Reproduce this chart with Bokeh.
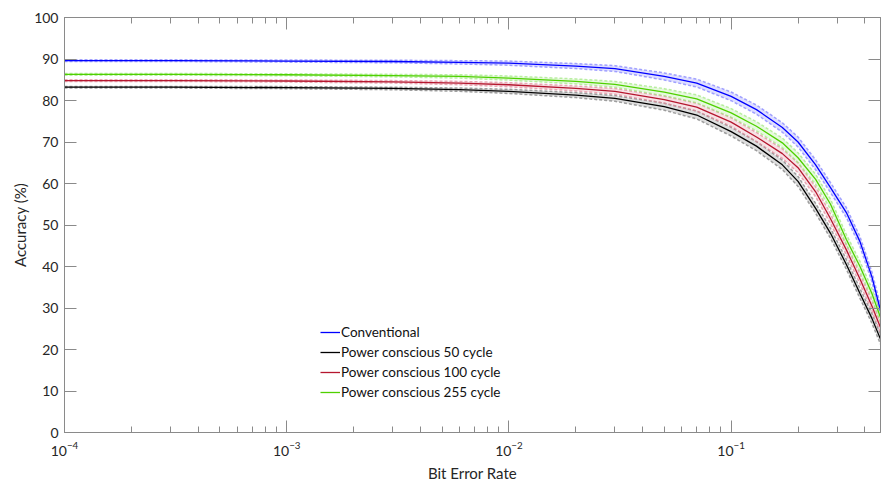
from bokeh.plotting import figure
from bokeh.models import LogAxis, LinearAxis, LogTicker, FixedTicker, Legend, Range1d, CustomJSTickFormatter
from bokeh.embed import file_html
from bokeh.resources import INLINE

ber = [1e-4, 3e-4, 1e-3, 3e-3, 6e-3, 1e-2, 2e-2, 3e-2, 5e-2, 7e-2, 0.1, 0.13, 0.17, 0.2, 0.24, 0.28, 0.33, 0.38, 0.43, 0.47]
conventional = [89.6, 89.6, 89.5, 89.4, 89.2, 89.0, 88.3, 87.7, 85.8, 84.2, 81.0, 77.8, 73.5, 70.0, 64.5, 59.0, 53.0, 46.0, 37.5, 29.4]
pc50 = [83.2, 83.2, 83.1, 82.9, 82.6, 82.2, 81.3, 80.5, 78.5, 76.5, 72.5, 69.0, 64.5, 60.5, 54.0, 48.0, 40.5, 33.5, 27.5, 22.5]
pc100 = [84.8, 84.8, 84.7, 84.5, 84.2, 83.8, 82.9, 82.2, 80.2, 78.4, 74.8, 71.2, 67.2, 63.8, 58.0, 51.5, 44.0, 37.0, 30.5, 25.3]
pc255 = [86.3, 86.3, 86.2, 86.0, 85.8, 85.4, 84.6, 83.9, 82.0, 80.4, 77.0, 73.8, 69.8, 66.2, 61.0, 55.0, 46.5, 40.0, 33.5, 27.7]
# half-width of the dashed confidence band (percentage points)
band_half = [0.2, 0.2, 0.25, 0.3, 0.4, 0.5, 0.6, 0.7, 0.85, 0.95, 1.05, 1.1, 1.15, 1.2, 1.2, 1.2, 1.2, 1.2, 1.2, 1.2]

names = ["Conventional", "Power conscious 50 cycle", "Power conscious 100 cycle", "Power conscious 255 cycle"]
series = [conventional, pc50, pc100, pc255]
colors = ["#0000ff", "#000000", "#b5172f", "#4fd000"]
band_colors = ["#7f7fff", "#7a7a7a", "#e08a9a", "#9fe87f"]
y_ticks = list(range(0, 101, 10))

FONT = "Lato"
TXT = "#262626"
AX = "#8a8a8a"

p = figure(width=883, height=484, x_axis_type="log", output_backend="svg",
           toolbar_location=None, x_range=Range1d(1e-4, 0.47), y_range=Range1d(0, 100),
           min_border_left=64, min_border_top=17, min_border_right=0, min_border_bottom=44)
p.xgrid.visible = False
p.ygrid.visible = False
p.outline_line_color = AX
p.background_fill_color = "white"

items = []
for name, ys, c, bc in zip(names, series, colors, band_colors):
    lo = [v - h for v, h in zip(ys, band_half)]
    hi = [v + h for v, h in zip(ys, band_half)]
    p.varea(x=ber, y1=lo, y2=hi, fill_color=bc, fill_alpha=0.25)
    p.line(ber, lo, line_color=bc, line_width=1.5, line_dash="3 2", line_alpha=0.7)
    p.line(ber, hi, line_color=bc, line_width=1.5, line_dash="3 2", line_alpha=0.7)
for name, ys, c in zip(names, series, colors):
    r = p.line(ber, ys, line_color=c, line_width=1.3)
    items.append((name, [r]))

def style(ax):
    ax.axis_line_color = AX
    ax.major_tick_line_color = AX
    ax.minor_tick_line_color = AX
    ax.major_tick_in = 12
    ax.major_tick_out = 0
    ax.minor_tick_in = 6
    ax.minor_tick_out = 0
    ax.major_label_text_font = FONT
    ax.major_label_text_font_size = "14px"
    ax.major_label_text_color = TXT
    ax.axis_label_text_font = FONT
    ax.axis_label_text_font_size = "15px"
    ax.axis_label_text_font_style = "normal"
    ax.axis_label_text_color = TXT

xa = p.xaxis[0]
style(xa)
xa.ticker = LogTicker(num_minor_ticks=10)
xa.axis_label = "Bit Error Rate"
xa.major_label_standoff = 9
xa.axis_label_standoff = 5

ya = p.yaxis[0]
style(ya)
ya.ticker = FixedTicker(ticks=y_ticks)
ya.minor_tick_line_color = None
ya.axis_label = "Accuracy (%)"
ya.major_label_standoff = 6
ya.axis_label_standoff = 2

blank = CustomJSTickFormatter(code="return ' ';")
top = LogAxis(ticker=LogTicker(num_minor_ticks=10), formatter=blank)
style(top)
top.major_label_standoff = 0
top.major_label_text_font_size = "1px"
p.add_layout(top, "above")
right = LinearAxis(ticker=FixedTicker(ticks=y_ticks), formatter=blank)
style(right)
right.major_label_standoff = 0
right.major_label_text_font_size = "1px"
right.minor_tick_line_color = None
p.add_layout(right, "right")

leg = Legend(items=items, location=(256, 30), border_line_color=None,
             background_fill_alpha=0, padding=0, margin=0, spacing=0,
             label_height=20, glyph_height=20, glyph_width=20, label_standoff=1,
             label_text_font=FONT, label_text_font_size="13.5px", label_text_color="#111111")
p.add_layout(leg, "center")

open("out.html", "w").write(file_html(p, INLINE))
